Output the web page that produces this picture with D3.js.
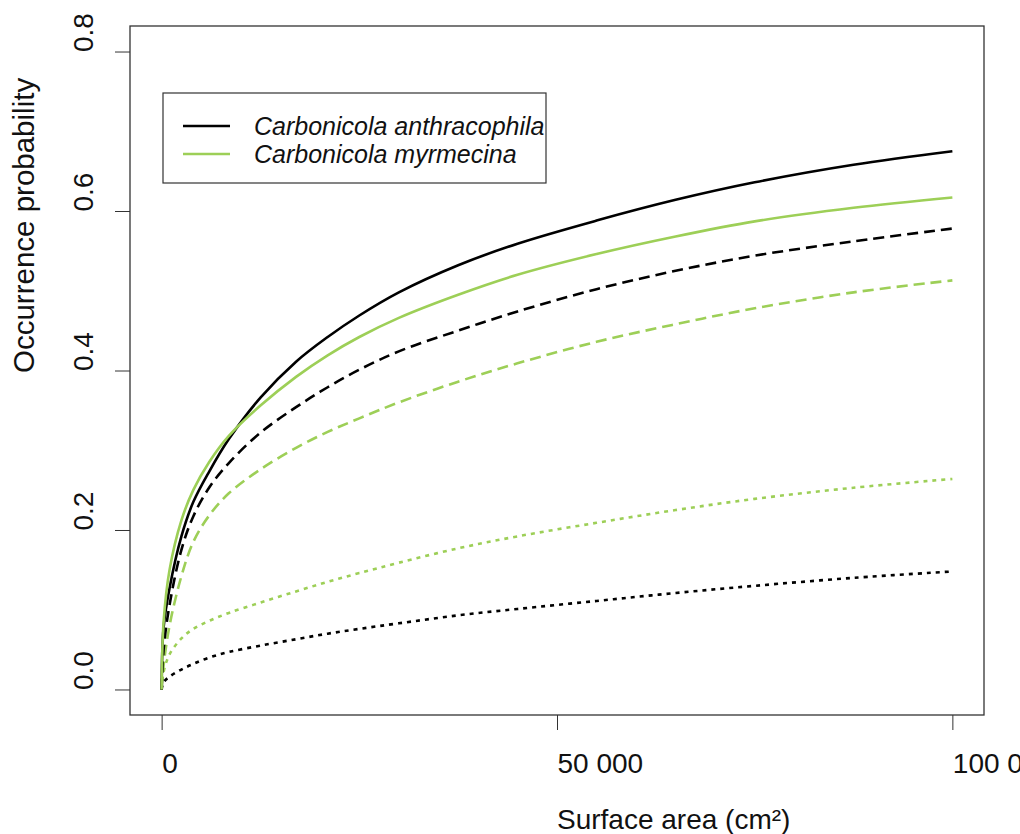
<!DOCTYPE html>
<html>
<head>
<meta charset="utf-8">
<script src="https://cdn.jsdelivr.net/npm/d3@7"></script>
<style>
  body { margin: 0; background: #fff; }
  svg { display: block; font-family: "Liberation Sans", Arial, sans-serif; }
</style>
</head>
<body>
<div id="chart"></div>
<script>

var aAreas = [0, 250, 1000, 2500, 4000, 6000, 8500, 12500, 17000, 21000,
    25000, 30000, 37500, 45000, 55000, 65000, 75000, 87500, 100000];

// Carbonicola anthracophila
var aAnthraSolid  = [0, 0.078, 0.127, 0.192, 0.235, 0.273, 0.314, 0.366, 0.411, 0.442,
    0.469, 0.498, 0.532, 0.559, 0.588, 0.614, 0.636, 0.658, 0.675];
var aAnthraDashed = [0, 0.050, 0.106, 0.175, 0.217, 0.253, 0.284, 0.322, 0.354, 0.379,
    0.401, 0.424, 0.450, 0.474, 0.502, 0.525, 0.544, 0.562, 0.578];
var aAnthraDotted = [0, 0.009, 0.016, 0.025, 0.032, 0.040, 0.047, 0.055, 0.063, 0.070,
    0.076, 0.083, 0.093, 0.101, 0.111, 0.121, 0.130, 0.140, 0.148];

// Carbonicola myrmecina
var aMyrmSolid  = [0, 0.085, 0.150, 0.212, 0.250, 0.285, 0.318, 0.356, 0.392, 0.419,
    0.442, 0.466, 0.495, 0.520, 0.546, 0.568, 0.587, 0.604, 0.617];
var aMyrmDashed = [0, 0.030, 0.080, 0.142, 0.185, 0.218, 0.246, 0.276, 0.303, 0.323,
    0.340, 0.360, 0.386, 0.409, 0.436, 0.458, 0.478, 0.498, 0.513];
var aMyrmDotted = [0, 0.022, 0.044, 0.064, 0.076, 0.086, 0.096, 0.109, 0.123, 0.135,
    0.146, 0.159, 0.177, 0.192, 0.209, 0.225, 0.239, 0.253, 0.264];

var aSpecies = ["Carbonicola anthracophila", "Carbonicola myrmecina"];
var aXTicks = [0, 50000, 100000];
var aYTicks = [0, 0.2, 0.4, 0.6, 0.8];

var black = "#000000";
var green = "#9dcf57";

var aSeries = [
    {values: aMyrmDotted,   color: green, dash: "4,5"},
    {values: aAnthraDotted, color: black, dash: "4,5"},
    {values: aMyrmDashed,   color: green, dash: "11,6"},
    {values: aAnthraDashed, color: black, dash: "11,6"},
    {values: aAnthraSolid,  color: black, dash: null},
    {values: aMyrmSolid,    color: green, dash: null}
];

var w = 1020, h = 834;
// plot region (window.top is read only, so no "top" here)
var pLeft = 130, pRight = 984, pTop = 26, pBottom = 715;

var svg = d3.select("#chart").append("svg")
    .attr("width", w)
    .attr("height", h);

// R style 4% padding on both scales
var x = d3.scaleLinear().domain([-4000, 104000]).range([pLeft, pRight]);
var y = d3.scaleLinear().domain([-0.032, 0.832]).range([pBottom, pTop]);

var spaceLocale = d3.formatLocale({decimal: ".", thousands: " ", grouping: [3], currency: ["", ""]});
var fmtX = spaceLocale.format(",");

// x axis
var gx = svg.append("g")
    .attr("transform", "translate(0," + pBottom + ")")
    .call(d3.axisBottom(x).tickValues(aXTicks).tickSize(15).tickSizeOuter(0).tickFormat(fmtX));
gx.select(".domain").remove();
gx.selectAll("line").attr("stroke", "#333");
gx.selectAll("text")
    .attr("text-anchor", "start")
    .attr("y", 58)
    .attr("dy", 0)
    .attr("font-size", "28px")
    .attr("font-family", "Liberation Sans, Arial, sans-serif")
    .attr("fill", "#111");

// y axis
var gy = svg.append("g")
    .attr("transform", "translate(" + pLeft + ",0)")
    .call(d3.axisLeft(y).tickValues(aYTicks).tickSize(15).tickSizeOuter(0).tickFormat(d3.format(".1f")));
gy.select(".domain").remove();
gy.selectAll("line").attr("stroke", "#333");
gy.selectAll("text")
    .attr("text-anchor", "start")
    .attr("x", 0)
    .attr("dy", 0)
    .attr("transform", "translate(-37,0) rotate(-90)")
    .attr("font-size", "28px")
    .attr("font-family", "Liberation Sans, Arial, sans-serif")
    .attr("fill", "#111");

// plot frame
svg.append("rect")
    .attr("x", pLeft)
    .attr("y", pTop)
    .attr("width", pRight - pLeft)
    .attr("height", pBottom - pTop)
    .attr("fill", "none")
    .attr("stroke", "#333")
    .attr("stroke-width", 1.3);

// curves
var line = d3.line()
    .x(function(d, i){ return x(aAreas[i]); })
    .y(function(d){ return y(d); })
    .curve(d3.curveCatmullRom.alpha(0.5));

svg.selectAll("path.curve")
    .data(aSeries)
    .enter()
    .append("path")
    .attr("class", "curve")
    .attr("d", function(d){ return line(d.values); })
    .attr("fill", "none")
    .attr("stroke", function(d){ return d.color; })
    .attr("stroke-width", 2.6)
    .attr("stroke-dasharray", function(d){ return d.dash; });

// axis titles
svg.append("text")
    .text("Surface area (cm²)")
    .attr("x", x(50000))
    .attr("y", 829)
    .attr("font-size", "28px")
    .attr("fill", "#111");

svg.append("text")
    .text("Occurrence probability")
    .attr("transform", "translate(34,373) rotate(-90)")
    .attr("font-size", "29.5px")
    .attr("fill", "#111");

// legend
var legend = svg.append("g");
legend.append("rect")
    .attr("x", 163)
    .attr("y", 93)
    .attr("width", 383)
    .attr("height", 90)
    .attr("fill", "#fff")
    .attr("stroke", "#333")
    .attr("stroke-width", 1.2);

var aLegendColors = [black, green];
aSpecies.forEach(function(name, i){
    var ly = 126 + i * 28;
    legend.append("line")
        .attr("x1", 183).attr("x2", 230)
        .attr("y1", ly).attr("y2", ly)
        .attr("stroke", aLegendColors[i])
        .attr("stroke-width", 2.6);
    legend.append("text")
        .text(name)
        .attr("x", 254)
        .attr("y", ly + 9)
        .attr("font-size", "25px")
        .attr("font-style", "italic")
        .attr("fill", "#111");
});

</script>
</body>
</html>
